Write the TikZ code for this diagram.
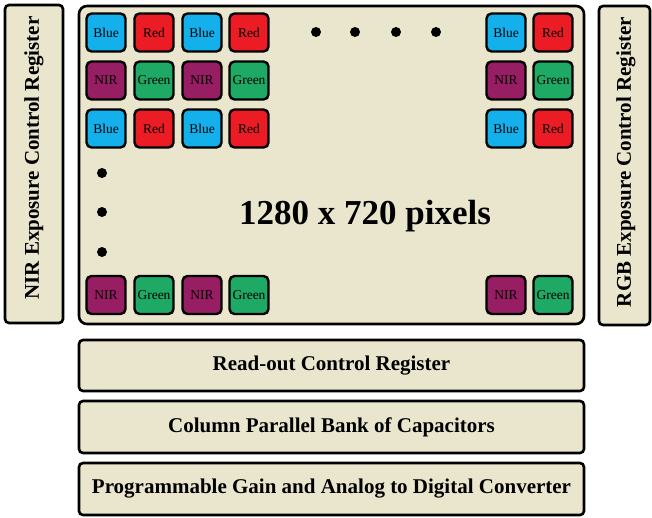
\documentclass[tikz,border=0pt]{standalone}
\usepackage{fontspec}
\setmainfont{Liberation Serif}
\definecolor{beige}{RGB}{234,230,206}
\definecolor{cblue}{RGB}{20,176,236}
\definecolor{cred}{RGB}{236,28,36}
\definecolor{cnir}{RGB}{152,30,100}
\definecolor{cgreen}{RGB}{30,170,100}
\begin{document}
\begin{tikzpicture}[x=1pt,y=-1pt,
  panel/.style={draw=black,line width=2.6pt,fill=beige,rounded corners=4pt},
  cell/.style={draw=black,line width=2.4pt,rounded corners=5pt,minimum width=39pt,minimum height=38pt,inner sep=0pt,font=\fontsize{13.5}{13.5}\selectfont},
  bl/.style={cell,fill=cblue},
  rd/.style={cell,fill=cred},
  nr/.style={cell,fill=cnir},
  gr/.style={cell,fill=cgreen},
  dot/.style={circle,fill=black,inner sep=0pt,minimum size=10pt},
  lbl/.style={font=\bfseries\fontsize{21}{21}\selectfont}]
\useasboundingbox (0,0) rectangle (652,517);
% side registers
\draw[panel] (5,5) rectangle (63,323);
\node[lbl,rotate=90] (nirreg) at (34,158) {NIR Exposure Control Register};
\draw[panel] (599,6) rectangle (650,325);
\node[lbl,rotate=90] (rgbreg) at (626,162) {RGB Exposure Control Register};
% main array
\draw[panel,rounded corners=8pt] (79,6) rectangle (584,324);
\node[font=\bfseries\fontsize{35}{35}\selectfont] (res) at (365,216) {1280 x 720 pixels};
% cells
\foreach \r/\y in {1/32.5,3/128.5}{
  \node[bl] (c\r1) at (106,\y) {Blue};
  \node[rd] (c\r2) at (154,\y) {Red};
  \node[bl] (c\r3) at (202,\y) {Blue};
  \node[rd] (c\r4) at (249,\y) {Red};
  \node[bl] (c\r5) at (506,\y) {Blue};
  \node[rd] (c\r6) at (553,\y) {Red};
}
\foreach \r/\y in {2/80.5,4/295}{
  \node[nr] (c\r1) at (106,\y) {NIR};
  \node[gr] (c\r2) at (154,\y) {Green};
  \node[nr] (c\r3) at (202,\y) {NIR};
  \node[gr] (c\r4) at (249,\y) {Green};
  \node[nr] (c\r5) at (506,\y) {NIR};
  \node[gr] (c\r6) at (553,\y) {Green};
}
% dots
\foreach \i/\x in {1/316,2/355,3/396,4/436}{\node[dot] (h\i) at (\x,32) {};}
\foreach \i/\y in {1/173,2/212,3/252}{\node[dot] (v\i) at (102,\y) {};}
% bottom blocks
\draw[panel] (79,340) rectangle (584,391);
\node[lbl] (ro) at (331.5,366) {Read-out Control Register};
\draw[panel] (79,401) rectangle (584,453);
\node[lbl] (cap) at (331.5,427) {Column Parallel Bank of Capacitors};
\draw[panel] (79,463) rectangle (584,515);
\node[lbl] (adc) at (331.5,489) {Programmable Gain and Analog to Digital Converter};
\end{tikzpicture}
\end{document}
